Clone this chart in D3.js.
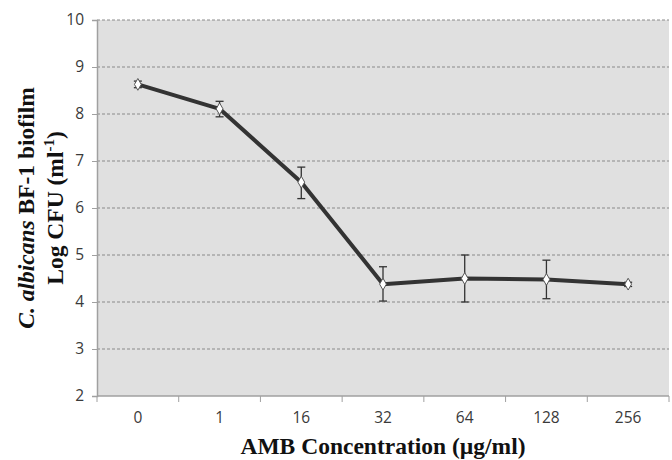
<!DOCTYPE html>
<html lang="en">
  <head>
    <meta charset="utf-8" />
    <title>AMB biofilm</title>
    <script src="https://d3js.org/d3.v7.min.js"></script>
    <style>
      body { margin: 0; background: #fff; }
    </style>
  </head>
  <body>
    <div id="chart"></div>
    <script>
      // values
      const concentrations = ["0", "1", "16", "32", "64", "128", "256"];
      const logCfu = [8.63, 8.11, 6.55, 4.38, 4.50, 4.48, 4.38];
      const errLow = [8.56, 7.94, 6.20, 4.02, 4.00, 4.07, 4.33];
      const errHigh = [8.70, 8.27, 6.87, 4.75, 5.00, 4.89, 4.42];
      const yTicks = [2, 3, 4, 5, 6, 7, 8, 9, 10];

      const width = 672, height = 460;
      const plot = { left: 97, right: 669, top: 20, bottom: 396 };

      const svg = d3.select("#chart").append("svg")
        .attr("width", width).attr("height", height);

      const x = d3.scaleBand().domain(concentrations)
        .range([plot.left, plot.right]);
      const y = d3.scaleLinear().domain([2, 10])
        .range([plot.bottom, plot.top]);

      // plot background
      svg.append("rect")
        .attr("x", plot.left).attr("y", plot.top)
        .attr("width", plot.right - plot.left)
        .attr("height", plot.bottom - plot.top)
        .attr("fill", "#e0e0e0");

      // dashed gridlines
      svg.append("g").selectAll("line")
        .data(yTicks.filter(d => d > 2))
        .join("line")
        .attr("x1", plot.left).attr("x2", plot.right)
        .attr("y1", d => y(d)).attr("y2", d => y(d))
        .attr("stroke", "#8a8a8a")
        .attr("stroke-width", 1)
        .attr("stroke-dasharray", "3,2");

      // y axis
      const yAxis = svg.append("g")
        .attr("transform", `translate(${plot.left},0)`)
        .call(d3.axisLeft(y).tickValues(yTicks).tickSize(5).tickPadding(8));
      yAxis.select(".domain").attr("stroke", "#a0a0a0").attr("stroke-width", 1.5);
      yAxis.selectAll(".tick line").attr("stroke", "#a0a0a0");
      yAxis.selectAll("text")
        .attr("font-family", "'Open Sans', sans-serif")
        .attr("font-size", 15.5).attr("fill", "#3a3a3a");

      // x axis: ticks at band boundaries
      const xAxis = svg.append("g")
        .attr("transform", `translate(0,${plot.bottom})`);
      xAxis.append("line")
        .attr("x1", plot.left).attr("x2", plot.right)
        .attr("stroke", "#a0a0a0").attr("stroke-width", 1.5);
      const bounds = concentrations.map(c => x(c)).concat([x(concentrations[concentrations.length - 1]) + x.bandwidth()]);
      xAxis.selectAll(".bt").data(bounds).join("line")
        .attr("x1", d => d).attr("x2", d => d)
        .attr("y1", 0).attr("y2", 6)
        .attr("stroke", "#a0a0a0");
      xAxis.selectAll("text").data(concentrations).join("text")
        .attr("x", d => x(d) + x.bandwidth() / 2)
        .attr("y", 27)
        .attr("text-anchor", "middle")
        .attr("font-family", "'Open Sans', sans-serif")
        .attr("font-size", 15.5).attr("fill", "#3a3a3a")
        .text(d => d);

      const cx = (d, i) => x(concentrations[i]) + x.bandwidth() / 2;

      // error bars
      const eb = svg.append("g").attr("stroke", "#333").attr("stroke-width", 1.3);
      eb.selectAll(".v").data(logCfu).join("line")
        .attr("x1", cx).attr("x2", cx)
        .attr("y1", (d, i) => y(errLow[i])).attr("y2", (d, i) => y(errHigh[i]));
      eb.selectAll(".t").data(logCfu).join("line")
        .attr("x1", (d, i) => cx(d, i) - 4).attr("x2", (d, i) => cx(d, i) + 4)
        .attr("y1", (d, i) => y(errHigh[i])).attr("y2", (d, i) => y(errHigh[i]));
      eb.selectAll(".b").data(logCfu).join("line")
        .attr("x1", (d, i) => cx(d, i) - 4).attr("x2", (d, i) => cx(d, i) + 4)
        .attr("y1", (d, i) => y(errLow[i])).attr("y2", (d, i) => y(errLow[i]));

      // the line
      svg.append("path")
        .datum(logCfu)
        .attr("fill", "none")
        .attr("stroke", "#333333")
        .attr("stroke-width", 4)
        .attr("stroke-linejoin", "round")
        .attr("d", d3.line().x(cx).y(d => y(d)));

      // markers
      svg.append("g").selectAll("path").data(logCfu).join("path")
        .attr("transform", (d, i) => `translate(${cx(d, i)},${y(d)})`)
        .attr("d", d3.symbol().type(d3.symbolDiamond).size(40))
        .attr("fill", "#fff")
        .attr("stroke", "#555")
        .attr("stroke-width", 1);

      // y title (two lines)
      const yt = svg.append("text")
        .attr("transform", "translate(0,208) rotate(-90)")
        .attr("text-anchor", "middle")
        .attr("font-family", "'Liberation Serif', 'Times New Roman', serif")
        .attr("font-weight", "bold")
        .attr("font-size", 23.5)
        .attr("fill", "#111");
      const l1 = yt.append("tspan").attr("x", 0).attr("y", 34);
      l1.append("tspan").attr("font-style", "italic").text("C. albicans");
      l1.append("tspan").text(" BF-1 biofilm");
      const l2 = yt.append("tspan").attr("x", 0).attr("y", 63);
      l2.append("tspan").text("Log CFU (ml");
      l2.append("tspan").attr("font-size", 15).attr("dy", -9).text("-1");
      l2.append("tspan").attr("dy", 9).text(")");

      // x title
      svg.append("text")
        .attr("x", 383)
        .attr("y", 454)
        .attr("text-anchor", "middle")
        .attr("font-family", "'Liberation Serif', 'Times New Roman', serif")
        .attr("font-weight", "bold")
        .attr("font-size", 23.5)
        .attr("fill", "#111")
        .text("AMB Concentration  (\u00b5g/ml)");
    </script>
  </body>
</html>
